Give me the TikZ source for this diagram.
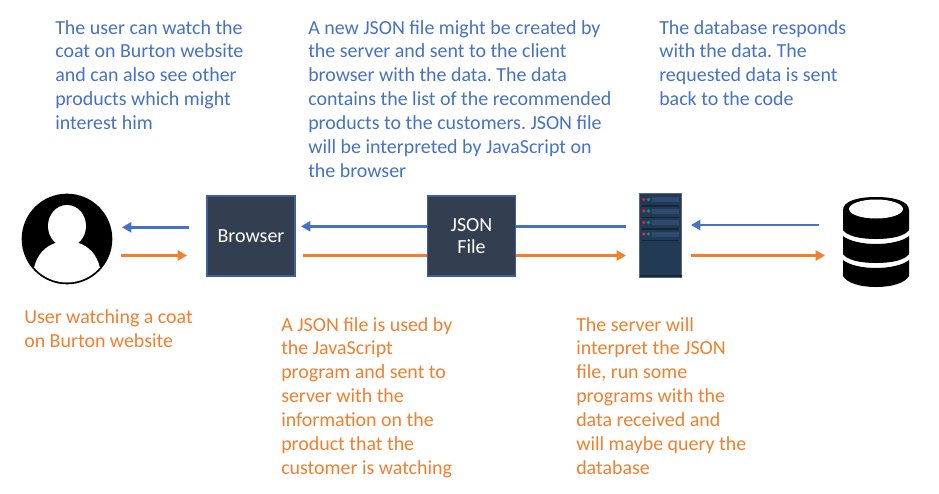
\documentclass[tikz,border=0pt]{standalone}
\usepackage{fontspec}
\setmainfont{Carlito}
\frenchspacing
\usetikzlibrary{arrows.meta}
\definecolor{bluetxt}{HTML}{4472C4}
\definecolor{orangetxt}{HTML}{F07F2E}
\definecolor{boxfill}{HTML}{333F50}
\definecolor{boxedge}{HTML}{3F5F9A}
\definecolor{srvfill}{HTML}{233A54}
\definecolor{srvedge}{HTML}{5A6878}
\definecolor{srvbar}{HTML}{2F4A6E}
\definecolor{srvdark}{HTML}{16263A}
\definecolor{srvred}{HTML}{D5234A}
\definecolor{srvteal}{HTML}{138A80}
\tikzset{
  note/.style={anchor=north west,inner sep=0pt,align=left,font=\fontsize{14.95pt}{17.87pt}\selectfont},
  bluenote/.style={note,text=bluetxt},
  orangenote/.style={note,text=orangetxt},
  darkbox/.style={draw=boxedge,line width=0.9pt,fill=boxfill,text=white,minimum width=66pt,minimum height=60pt,inner sep=0pt,align=center,font=\fontsize{15pt}{16.5pt}\selectfont},
  bluearrow/.style={draw=bluetxt,line width=2pt,-{Triangle[length=7pt,width=7.5pt]}},
  orangearrow/.style={draw=orangetxt,line width=2pt,-{Triangle[length=7pt,width=7.5pt]}},
}
\begin{document}
\begin{tikzpicture}[x=0.75pt,y=-0.75pt]
\useasboundingbox (0,0) rectangle (939,493);
% text
\node[bluenote] (t1) at (55,20) {The user can watch the\\coat on Burton website\\and can also see other\\products which might\\interest him};
\node[bluenote] (t2) at (308,20) {A new JSON file might be created by\\the server and sent to the client\\browser with the data. The data\\contains the list of the recommended\\products to the customers. JSON file\\will be interpreted by JavaScript on\\the browser};
\node[bluenote] (t3) at (659,20) {The database responds\\with the data. The\\requested data is sent\\back to the code};
\node[orangenote] (t4) at (24,309.5) {User watching a coat\\on Burton website};
\node[orangenote] (t5) at (281,317) {A JSON file is used by\\the JavaScript\\program and sent to\\server with the\\information on the\\product that the\\customer is watching};
\node[orangenote] (t6) at (576,317) {The server will\\interpret the JSON\\file, run some\\programs with the\\data received and\\will maybe query the\\database};
% connector ends
\coordinate (ub) at (122,227.3);
\coordinate (bb) at (189,227.3);
\coordinate (uo) at (121,255.5);
\coordinate (bo) at (187,255.5);
\coordinate (b2b) at (301,226.3);
\coordinate (s2b) at (626,226.3);
\coordinate (b2o) at (303,255.5);
\coordinate (s2o) at (626,255.5);
\coordinate (s3b) at (691,225);
\coordinate (d3b) at (819,225);
\coordinate (s3o) at (691,255.5);
\coordinate (d3o) at (825,255.5);
% connectors
\draw[bluearrow] (bb) -- (ub);
\draw[orangearrow] (uo) -- (bo);
\draw[bluearrow] (s2b) -- (b2b);
\draw[orangearrow] (b2o) -- (s2o);
\draw[bluearrow] (d3b) -- (s3b);
\draw[orangearrow] (s3o) -- (d3o);
% boxes
\node[darkbox] (browser) at (251,236) {Browser};
\node[darkbox] (json) at (471.5,236) {JSON\\[0.5pt]File};
% user
\node[circle,fill=black,minimum size=68pt,inner sep=0pt] (user) at (67,239) {};
\begin{scope}
\clip (67,239) circle (43.5);
\fill[white] (34,285) -- (34,268) .. controls (37,254) and (46,246) .. (55.5,243)
  -- (78.5,243) .. controls (88,246) and (97,254) .. (100,268) -- (100,285) -- cycle;
\end{scope}
\fill[white] (67,226) ellipse (19 and 21);
% server
\node[draw=srvedge,line width=0.8pt,fill=srvfill,minimum width=32pt,minimum height=63.5pt,inner sep=0pt] (server) at (660.5,235.5) {};
\fill[srvdark] (639.5,277) rectangle (681.5,275);
\foreach \y in {199.5,211,222.5,234}{
  \fill[srvbar] (652,\y-2.5) rectangle (679,\y+2.5);
  \fill[srvred] (643.7,\y) circle (1.9);
  \fill[srvteal] (648.5,\y) circle (1.9);
  \fill[srvdark] (642,\y+5.5) rectangle (679,\y+7);
}
% database
\node[inner sep=0pt,minimum width=50pt,minimum height=67pt] (db) at (876,242) {};
\fill[black] (843,210) .. controls (843,201) and (858,197) .. (876,197) .. controls (894,197) and (909,201) .. (909,210)
  -- (909,230) .. controls (905,236) and (892,239) .. (876,239) .. controls (860,239) and (847,236) .. (843,230) -- cycle;
\fill[black] (843,236) .. controls (849,241) and (862,244) .. (876,244) .. controls (890,244) and (903,241) .. (909,236)
  -- (909,254) .. controls (905,260) and (892,263) .. (876,263) .. controls (860,263) and (847,260) .. (843,254) -- cycle;
\fill[black] (843,260) .. controls (849,265) and (862,268) .. (876,268) .. controls (890,268) and (903,265) .. (909,260)
  -- (909,276) .. controls (905,283) and (892,287) .. (876,287) .. controls (860,287) and (847,283) .. (843,276) -- cycle;
\fill[white] (876,209) ellipse (27 and 9.5);
\end{tikzpicture}
\end{document}
